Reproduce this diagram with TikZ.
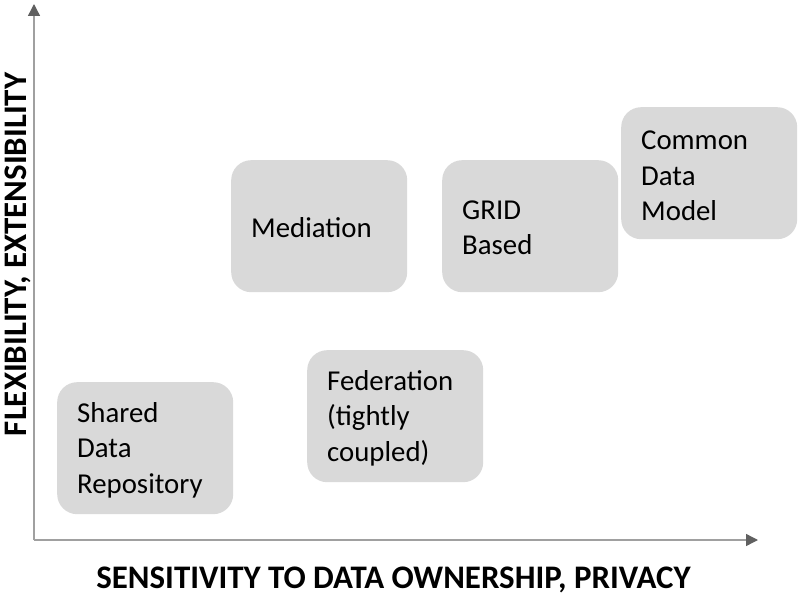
\documentclass[tikz,border=0pt]{standalone}
\usepackage{fontspec}
\setmainfont{Carlito}
\usetikzlibrary{arrows.meta}
\definecolor{boxgray}{HTML}{D9D9D9}
\definecolor{axisgray}{HTML}{A0A0A0}
\definecolor{tipgray}{HTML}{606060}
\begin{document}
\begin{tikzpicture}[x=1pt,y=-1pt,
  optbox/.style={fill=boxgray, draw=none, rounded corners=20pt, anchor=north west,
    minimum width=176pt, minimum height=132pt},
  optlabel/.style={anchor=west, align=left, font=\fontsize{28.8}{35.5}\selectfont, text=black, inner sep=0pt},
  axisline/.style={draw=axisgray, line width=1.4pt, -{Triangle[length=12pt,width=12pt,color=tipgray]}},
  axislabel/.style={font=\fontsize{32.9}{38}\selectfont\bfseries, text=black, inner sep=0pt, anchor=base}]
\useasboundingbox (0,0) rectangle (800,596);
\fill[white] (0,0) rectangle (800,596);
% axes
\coordinate (origin) at (34,540);
\coordinate (ytip) at (34,4);
\coordinate (xtip) at (758,540);
\draw[axisline] (origin) -- (ytip);
\draw[axisline] (origin) -- (xtip);
\node[axislabel] (xlab) at (393.5,588) {SENSITIVITY TO DATA OWNERSHIP, PRIVACY};
\node[axislabel, rotate=90] (ylab) at (26.5,254.5) {FLEXIBILITY, EXTENSIBILITY};
% boxes
\node[optbox] (shared) at (57,382) {};
\node[optlabel] (sharedt) at (77,450) {Shared\\Data\\Repository};
\node[optbox] (fed) at (307,350) {};
\node[optlabel] (fedt) at (327,418) {Federation\\(tightly\\coupled)};
\node[optbox] (med) at (231,160) {};
\node[optlabel] (medt) at (251,227.5) {Mediation};
\node[optbox] (grid) at (442,160) {};
\node[optlabel] (gridt) at (462,228) {GRID\\Based};
\node[optbox] (cdm) at (621,107) {};
\node[optlabel] (cdmt) at (641,176) {Common\\Data\\Model};
\end{tikzpicture}
\end{document}
